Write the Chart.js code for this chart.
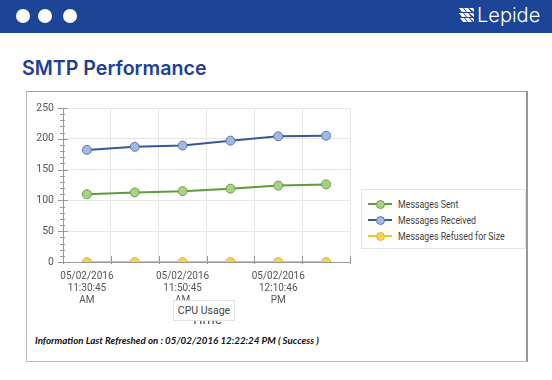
<!DOCTYPE html>
<html lang="en">
<head>
    <meta charset="UTF-8">
    <title>SMTP Performance</title>
    <script src="https://cdn.jsdelivr.net/npm/chart.js"></script>
    <style>
        body {
            margin: 0;
            width: 552px;
            height: 380px;
            background: #fff;
            font-family: Roboto, Arial, sans-serif;
            position: relative;
            overflow: hidden;
        }

        .topbar {
            position: absolute;
            left: 0; top: 0;
            width: 552px; height: 33px;
            background: #1c4598;
        }

        .dot {
            position: absolute;
            top: 9px;
            width: 14px; height: 14px;
            border-radius: 50%;
            background: #fff;
        }

        .brand {
            position: absolute;
            left: 459px; top: 3px;
            color: #fff;
            font-family: Inter, sans-serif;
            font-weight: 300;
            font-size: 20px;
            display: flex;
            align-items: center;
        }

        .brand svg { margin-right: 3px; }

        h1 {
            position: absolute;
            left: 22px; top: 56px;
            margin: 0;
            font-family: Inter, sans-serif;
            font-weight: 600;
            font-size: 19.6px;
            color: #1e3f94;
        }

        .panel {
            position: absolute;
            left: 26px; top: 91px;
            width: 499px; height: 269px;
            border: 1px solid #bdbdbd;
            border-top-color: #8fae70;
            border-right: 2px solid #999;
        }

        .chart-wrap {
            position: absolute;
            left: 26px; top: 91px;
            width: 330px; height: 238px;
        }

        .legend {
            position: absolute;
            left: 361px; top: 189px;
            width: 163px; height: 58px;
            border: 1px solid #e4e4e4;
            font-size: 10.5px;
            color: #444;
            white-space: nowrap;
        }

        .legend-item {
            position: absolute;
            left: 6px;
            height: 14px;
            display: flex;
            align-items: center;
        }

        .legend-item span {
            display: inline-block;
            transform: scaleX(0.84);
            transform-origin: left center;
        }

        .legend-mark {
            position: relative;
            width: 24px; height: 14px;
            margin-right: 6px;
        }

        .legend-mark .ln {
            position: absolute;
            left: 0; top: 6px;
            width: 24px; height: 2px;
        }

        .legend-mark .pt {
            position: absolute;
            left: 8px; top: 3px;
            width: 7px; height: 7px;
            border-radius: 50%;
            border: 1px solid;
        }

        .cpu-box {
            position: absolute;
            left: 173px; top: 300px;
            width: 60px; height: 19px;
            border: 1px solid #e2e2e2;
            background: #fff;
            font-size: 10.5px;
            color: #444;
            text-align: center;
            line-height: 19px;
        }

        .refreshed {
            position: absolute;
            left: 35px; top: 334px;
            font-family: Lato, sans-serif;
            font-size: 9.75px;
            font-weight: 700;
            font-style: italic;
            color: #111;
            white-space: nowrap;
        }
    </style>
</head>
<body>

<div class="topbar">
    <div class="dot" style="left:16px"></div>
    <div class="dot" style="left:38px"></div>
    <div class="dot" style="left:63px"></div>
    <div class="brand">
        <svg width="15" height="14" viewBox="0 0 15 14">
            <path d="M0 0h4l3 4h-4z M5 0h4l3 4h-4z M10 0h4l1 1.5v2.5z" fill="#fff"/>
            <path d="M0 5h4l3 4h-4z M5 5h4l3 4h-4z M10 5h4l1 1.5v2.5z" fill="#fff"/>
            <path d="M1 10h4l3 4h-4z M6 10h4l3 4h-4z M11 10h3l1 1.5v2.5z" fill="#fff"/>
        </svg>
        <span>Lepide</span>
    </div>
</div>

<h1>SMTP Performance</h1>

<div class="panel"></div>

<div class="chart-wrap">
    <canvas id="smtpChart"></canvas>
</div>

<div class="legend" id="legend"></div>

<div class="cpu-box">CPU Usage</div>

<div class="refreshed">Information Last Refreshed on : 05/02/2016 12:22:24 PM ( Success )</div>

<script>
    // sample times (only every other one is labelled on the axis)
    const timeLabels = [
        ['05/02/2016', '11:30:45', 'AM'],
        ['05/02/2016', '11:40:45', 'AM'],
        ['05/02/2016', '11:50:45', 'AM'],
        ['05/02/2016', '12:00:46', 'PM'],
        ['05/02/2016', '12:10:46', 'PM'],
        ['05/02/2016', '12:20:46', 'PM']
    ];
    const messagesSent = [110, 113, 115, 119, 124, 126];
    const messagesReceived = [182, 187, 189, 197, 204, 205];
    const messagesRefused = [0, 0, 0, 0, 0, 0];
    const yTicks = [0, 50, 100, 150, 200, 250];

    const seriesStyle = [
        { label: 'Messages Sent', data: messagesSent, line: '#5f9b3c', fill: '#a9d183', edge: '#6c9e4c' },
        { label: 'Messages Received', data: messagesReceived, line: '#38589a', fill: '#a3b7e0', edge: '#5b77b2' },
        { label: 'Messages Refused for Size', data: messagesRefused, line: '#e6c63a', fill: '#f1d552', edge: '#dcbc34' }
    ];

    // small crossing tick marks on both axes
    const axisTicks = {
        id: 'axisTicks',
        afterDraw(chart) {
            const ctx = chart.ctx;
            const x = chart.scales.x;
            const y = chart.scales.y;
            ctx.save();
            ctx.strokeStyle = '#999';
            ctx.lineWidth = 1;
            y.ticks.forEach(t => {
                const py = Math.round(y.getPixelForValue(t.value)) + 0.5;
                const major = yTicks.includes(t.value);
                ctx.beginPath();
                ctx.moveTo(y.right - (major ? 5 : 3), py);
                ctx.lineTo(y.right + (major ? 5 : 2), py);
                ctx.stroke();
            });
            for (let i = 0; i <= timeLabels.length; i++) {
                const px = Math.round(x.getPixelForValue(i - 0.5)) + 0.5;
                ctx.beginPath();
                ctx.moveTo(px, x.top - 6);
                ctx.lineTo(px, x.top + 2);
                ctx.stroke();
            }
            ctx.restore();
        }
    };

    const ctx = document.getElementById('smtpChart').getContext('2d');
    const smtpChart = new Chart(ctx, {
        type: 'line',
        data: {
            labels: timeLabels,
            datasets: seriesStyle.map(s => ({
                label: s.label,
                data: s.data,
                borderColor: s.line,
                borderWidth: 2,
                pointRadius: 4.5,
                pointBackgroundColor: s.fill,
                pointBorderColor: s.edge,
                pointBorderWidth: 1,
                tension: 0,
                fill: false
            }))
        },
        options: {
            responsive: true,
            maintainAspectRatio: false,
            animation: false,
            layout: { padding: { left: 0, right: 6, top: 17, bottom: 0 } },
            plugins: {
                legend: { display: false },
                tooltip: { enabled: false }
            },
            scales: {
                x: {
                    offset: true,
                    grid: { offset: true, color: '#e6e6e6', drawTicks: false },
                    border: { color: '#999' },
                    ticks: {
                        autoSkip: false,
                        maxRotation: 0,
                        padding: 8,
                        color: '#555',
                        font: { family: 'Roboto', size: 10, lineHeight: 1.2 },
                        callback: (v, i) => (i % 2 === 0 ? timeLabels[i] : '')
                    },
                    title: {
                        display: true,
                        text: 'Time',
                        color: '#555',
                        padding: 0,
                        font: { family: 'Roboto', size: 14 }
                    },
                    afterFit: s => { s.height = 67; }
                },
                y: {
                    min: 0,
                    max: 250,
                    grid: {
                        drawTicks: false,
                        color: c => (yTicks.includes(c.tick.value) ? '#e6e6e6' : 'transparent')
                    },
                    border: { color: '#999' },
                    ticks: {
                        stepSize: 10,
                        autoSkip: false,
                        padding: 9,
                        color: '#555',
                        font: { family: 'Roboto', size: 10.5 },
                        callback: v => (yTicks.includes(v) ? v : '')
                    },
                    afterFit: s => { s.width = 37; }
                }
            }
        },
        plugins: [axisTicks]
    });

    // html legend built from the datasets
    const legendEl = document.getElementById('legend');
    seriesStyle.forEach((s, i) => {
        const item = document.createElement('div');
        item.className = 'legend-item';
        item.style.top = (7 + i * 16) + 'px';
        item.innerHTML =
            '<div class="legend-mark"><div class="ln" style="background:' + s.line + '"></div>' +
            '<div class="pt" style="background:' + s.fill + ';border-color:' + s.edge + '"></div></div>' +
            '<span>' + s.label + '</span>';
        legendEl.appendChild(item);
    });
</script>
</body>
</html>
